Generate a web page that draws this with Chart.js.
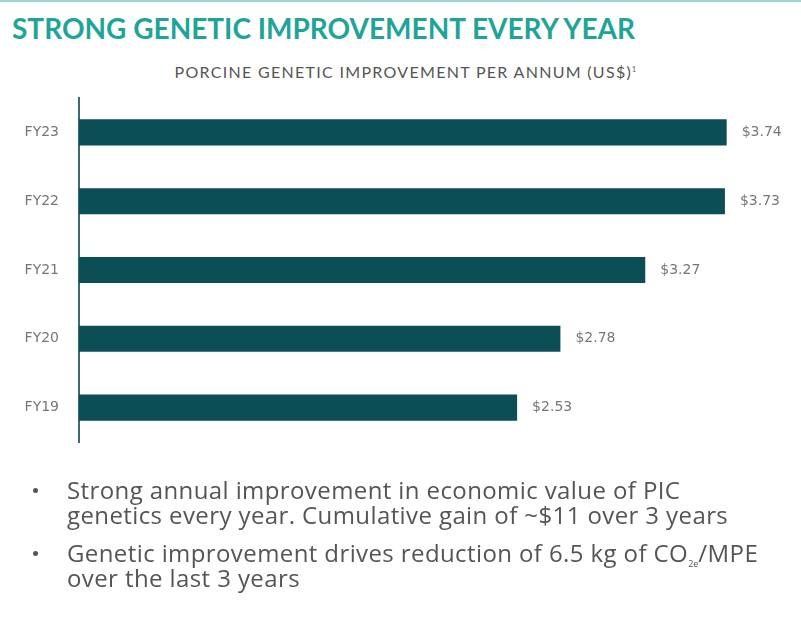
<!DOCTYPE html>
<html>
<head>
<meta charset="utf-8">
<script src="https://cdn.jsdelivr.net/npm/chart.js@4"></script>
<style>
  body { margin: 0; background: #fff; font-family: Lato, sans-serif; }
  #wrap { position: relative; width: 801px; height: 620px; overflow: hidden; }
  #topline { position: absolute; left: 0; top: 0; width: 801px; height: 2px; background: #9fd6cf; }
  #titulo { position: absolute; left: 12px; top: 11px; font-size: 28px; font-weight: bold; color: #1fa597; white-space: nowrap; }
  #subtitulo { position: absolute; left: 0; width: 812px; top: 62px; text-align: center; font-size: 16px; color: #555; letter-spacing: 1.3px; white-space: nowrap; }
  canvas { position: absolute; left: 0; top: 0; }
  ul { position: absolute; left: 0; top: 477px; margin: 0; padding: 0; list-style: none; font-family: "Open Sans", sans-serif; font-size: 24px; color: #555; line-height: 25px; letter-spacing: 0.4px; }
  li { position: relative; padding-left: 67px; margin-bottom: 13px; white-space: nowrap; }
  li::before { content: ""; position: absolute; left: 33px; top: 11px; width: 5px; height: 5px; border-radius: 50%; background: #555; }
  sub { font-size: 9px; letter-spacing: 0; vertical-align: baseline; position: relative; top: 5px; line-height: 0; }
</style>
</head>
<body>
<div id="wrap">
  <div id="topline"></div>
  <div id="titulo">STRONG GENETIC IMPROVEMENT EVERY YEAR</div>
  <div id="subtitulo">PORCINE GENETIC IMPROVEMENT PER ANNUM (US$)<sup style="font-size:7px">1</sup></div>
  <canvas id="mejoraGenetica" width="801" height="620"></canvas>
  <ul>
    <li>Strong annual improvement in economic value of PIC<br>genetics every year. Cumulative gain of ~$11 over 3 years</li>
    <li>Genetic improvement drives reduction of 6.5 kg of CO<sub>2e</sub>/MPE<br>over the last 3 years</li>
  </ul>
</div>
<script>
var anios = ["FY23", "FY22", "FY21", "FY20", "FY19"]
var valores = [3.74, 3.73, 3.27, 2.78, 2.53]
var etiquetas = ["$3.74", "$3.73", "$3.27", "$2.78", "$2.53"]

// Etiquetas de valor al final de cada barra
var etiquetasValor = {
  id: "etiquetasValor",
  afterDatasetsDraw(chart) {
    var ctx = chart.ctx
    var meta = chart.getDatasetMeta(0)
    ctx.save()
    ctx.font = "14px 'DejaVu Sans', sans-serif"
    ctx.fillStyle = "#777"
    ctx.textBaseline = "middle"
    meta.data.forEach(function (bar, i) {
      ctx.fillText(etiquetas[i], bar.x + 15, bar.y)
    })
    ctx.restore()
  },
}

var ctx = document.getElementById("mejoraGenetica").getContext("2d")
var chart = new Chart(ctx, {
  type: "bar",
  data: {
    labels: anios,
    datasets: [
      {
        data: valores,
        backgroundColor: "#0c4e55",
        categoryPercentage: 1,
        barPercentage: 0.38,
      },
    ],
  },
  options: {
    indexAxis: "y",
    responsive: false,
    animation: false,
    layout: {
      padding: { top: 98, bottom: 178, right: 12, left: 0 },
    },
    scales: {
      x: {
        display: false,
        min: 0,
        max: 4.1,
      },
      y: {
        grid: { display: false },
        border: { display: true, color: "#3d6a6c", width: 2 },
        ticks: {
          color: "#777",
          font: { family: "'DejaVu Sans', sans-serif", size: 14 },
          padding: 12,
        },
        afterFit: function (scale) {
          scale.width = 79
        },
      },
    },
    plugins: {
      legend: { display: false },
      tooltip: { enabled: false },
    },
  },
  plugins: [etiquetasValor],
})
</script>
</body>
</html>
